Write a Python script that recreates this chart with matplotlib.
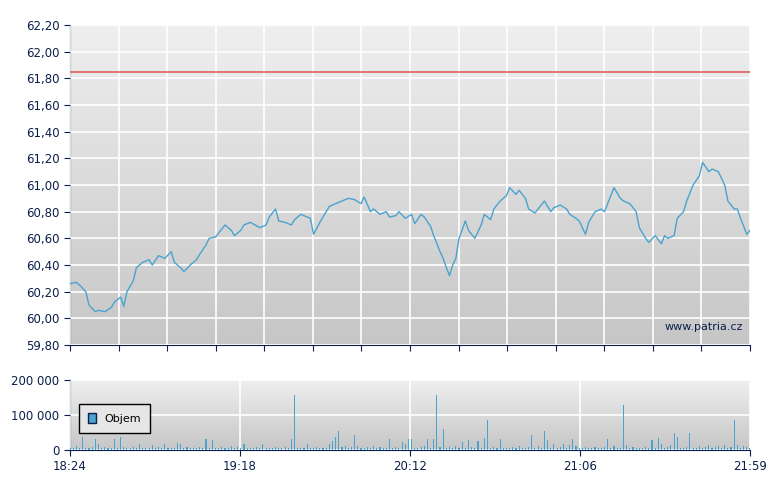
import matplotlib
matplotlib.use("Agg")
import matplotlib.pyplot as plt
import numpy as np
from matplotlib.ticker import FuncFormatter

# price series: minutes after 18:24 and price
price_min = [0, 2, 3, 5, 6, 8, 9, 11, 13, 14, 16, 17, 18, 20, 21, 23, 25, 26, 28, 30,
             32, 33, 35, 36, 38, 40, 41, 43, 44, 46, 47, 49, 51, 52, 54, 55, 57, 60, 62, 63,
             65, 66, 68, 70, 71, 73, 76, 77, 79, 81, 82, 84, 85, 88, 90, 92, 93, 95, 96, 98,
             100, 101, 103, 104, 106, 108, 109, 111, 112, 114, 115, 117, 118, 119, 120, 121, 122, 123, 125, 126,
             128, 130, 131, 133, 134, 136, 138, 139, 141, 142, 144, 145, 147, 149, 150, 152, 153, 155, 157, 158,
             160, 161, 163, 164, 166, 168, 169, 171, 172, 174, 175, 177, 179, 180, 182, 183, 185, 187, 188, 189,
             191, 192, 194, 195, 197, 199, 200, 202, 203, 205, 206, 207, 208, 210, 211, 212, 214, 215]
price_val = [60.26, 60.27, 60.25, 60.20, 60.10, 60.05, 60.06, 60.05, 60.08, 60.12, 60.16, 60.09, 60.20, 60.28, 60.38, 60.42, 60.44, 60.40, 60.47, 60.45,
             60.50, 60.42, 60.38, 60.35, 60.40, 60.44, 60.48, 60.55, 60.60, 60.61, 60.64, 60.70, 60.66, 60.62, 60.66, 60.70, 60.72, 60.68, 60.70, 60.76,
             60.82, 60.73, 60.72, 60.70, 60.74, 60.78, 60.75, 60.63, 60.72, 60.80, 60.84, 60.86, 60.87, 60.90, 60.89, 60.86, 60.91, 60.80, 60.82, 60.78,
             60.80, 60.76, 60.77, 60.80, 60.75, 60.78, 60.71, 60.78, 60.76, 60.69, 60.62, 60.50, 60.45, 60.38, 60.32, 60.40, 60.45, 60.60, 60.73, 60.66,
             60.60, 60.70, 60.78, 60.74, 60.82, 60.88, 60.92, 60.98, 60.93, 60.96, 60.90, 60.82, 60.79, 60.85, 60.88, 60.80, 60.83, 60.85, 60.82, 60.78,
             60.75, 60.73, 60.63, 60.72, 60.80, 60.82, 60.80, 60.92, 60.98, 60.90, 60.88, 60.86, 60.80, 60.68, 60.60, 60.57, 60.62, 60.56, 60.62, 60.60,
             60.62, 60.75, 60.80, 60.88, 61.00, 61.07, 61.17, 61.10, 61.12, 61.10, 61.05, 61.00, 60.88, 60.82, 60.82, 60.75, 60.63, 60.66]
ref_line = 61.85

# volume per minute after 18:24
volume = [6000, 5000, 12000, 7000, 38000, 6000, 5000, 8000, 32000, 18000, 6000, 9000,
          5000, 7000, 32000, 6000, 38000, 8000, 5000, 6000, 9000, 5000, 16000, 6000,
          5000, 7000, 15000, 6000, 8000, 5000, 18000, 6000, 7000, 5000, 20000, 17000,
          6000, 9000, 5000, 7000, 6000, 8000, 5000, 32000, 6000, 28000, 7000, 5000,
          8000, 6000, 5000, 12000, 6000, 9000, 5000, 16000, 6000, 7000, 5000, 8000,
          6000, 17000, 5000, 7000, 6000, 8000, 5000, 6000, 9000, 5000, 32000, 158000,
          7000, 5000, 6000, 18000, 5000, 6000, 8000, 5000, 7000, 6000, 18000, 26000,
          37000, 55000, 9000, 12000, 6000, 8000, 43000, 12000, 7000, 5000, 9000, 6000,
          12000, 5000, 8000, 6000, 7000, 32000, 5000, 9000, 6000, 22000, 17000, 32000,
          32000, 6000, 5000, 8000, 12000, 32000, 7000, 32000, 158000, 9000, 60000, 6000,
          8000, 5000, 12000, 7000, 24000, 6000, 30000, 8000, 5000, 27000, 6000, 35000,
          87000, 6000, 9000, 5000, 32000, 6000, 7000, 5000, 8000, 6000, 12000, 5000,
          7000, 9000, 43000, 6000, 12000, 5000, 55000, 28000, 7000, 16000, 5000, 8000,
          18000, 6000, 15000, 32000, 12000, 6000, 5000, 8000, 6000, 7000, 9000, 5000,
          6000, 8000, 32000, 5000, 12000, 7000, 6000, 130000, 14000, 5000, 8000, 6000,
          7000, 5000, 9000, 6000, 28000, 5000, 35000, 18000, 6000, 8000, 14000, 48000,
          38000, 6000, 5000, 9000, 48000, 7000, 6000, 12000, 5000, 8000, 14000, 6000,
          9000, 12000, 5000, 15000, 6000, 10000, 87000, 14000, 6000, 12000, 8000, 6000]
vol_ticks = [0, 53.75, 107.5, 161.25, 215]
vol_labels = ["18:24", "19:18", "20:12", "21:06", "21:59"]

NAVY = "#0a1f4a"
LINE = "#4aa3cf"


def gradient(ax):
    g = np.linspace(0, 1, 256).reshape(-1, 1)
    ax.imshow(g, extent=[0, 1, 0, 1], transform=ax.transAxes, aspect="auto",
              cmap=matplotlib.colors.LinearSegmentedColormap.from_list("g", ["#efefef", "#c6c6c6"]),
              zorder=0)


def style(ax):
    for s in ["top", "right"]:
        ax.spines[s].set_visible(False)
    for s in ["left", "bottom"]:
        ax.spines[s].set_color(NAVY)
    ax.tick_params(colors=NAVY, labelsize=8.5, direction="out", length=4)
    ax.grid(True, color="white", linewidth=1.2, zorder=1)
    ax.set_axisbelow(False)


fig = plt.figure(figsize=(7.8, 4.9), dpi=100)
ax = fig.add_axes([70 / 780, 1 - 345 / 490, 680 / 780, 320 / 490])
gradient(ax)
style(ax)
ax.plot(price_min, price_val, color=LINE, linewidth=1.0, zorder=3)
ax.axhline(ref_line, color="#e06060", linewidth=1.2, zorder=3)
ax.set_xlim(0, 215)
ax.set_ylim(59.8, 62.2)
ax.set_yticks(np.arange(59.8, 62.21, 0.2))
ax.yaxis.set_major_formatter(FuncFormatter(lambda v, p: f"{v:.2f}".replace(".", ",")))
ax.set_xticks(np.linspace(0, 215, 15))
ax.set_xticklabels([])
ax.text(0.99, 0.04, "www.patria.cz", transform=ax.transAxes, ha="right", va="bottom",
        fontsize=8, color=NAVY, zorder=4)

bx = fig.add_axes([70 / 780, 1 - 450 / 490, 680 / 780, 70 / 490])
gradient(bx)
style(bx)
bx.bar(np.arange(len(volume)), volume, width=0.35, color=LINE, zorder=3, label="Objem")
bx.set_xlim(0, 215)
bx.set_ylim(0, 200000)
bx.set_yticks([0, 100000, 200000])
bx.yaxis.set_major_formatter(FuncFormatter(lambda v, p: f"{int(v):,}".replace(",", " ")))
bx.set_xticks(vol_ticks)
bx.set_xticklabels(vol_labels)
leg = bx.legend(loc="center left", bbox_to_anchor=(0.005, 0.45), fontsize=8, frameon=True,
                fancybox=False, handlelength=0.7, handleheight=0.9, borderpad=0.8)
leg.get_frame().set_edgecolor("black")
leg.get_frame().set_facecolor("#e6e6e6")
leg.get_frame().set_alpha(1)
for p in leg.get_patches():
    p.set_edgecolor(NAVY)

fig.savefig("out.png", dpi=100)
